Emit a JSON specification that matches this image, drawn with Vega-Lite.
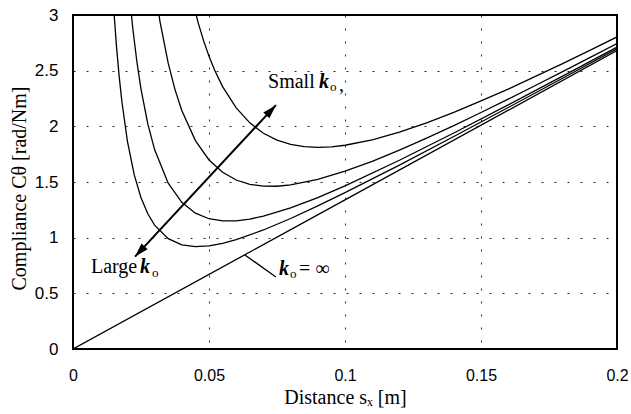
{
  "$schema": "https://vega.github.io/schema/vega-lite/v6.json",
  "width": 544,
  "height": 334,
  "autosize": {"type": "none"},
  "padding": {"left": 73, "top": 15, "right": 14, "bottom": 65},
  "background": "white",
  "config": {"view": {"stroke": "black", "strokeWidth": 2}},
  "datasets": {
    "curves": [
      {"k": "c1", "x": 0.044, "y": 3.121}, {"k": "c1", "x": 0.046, "y": 2.932}, {"k": "c1", "x": 0.048, "y": 2.77},
      {"k": "c1", "x": 0.05, "y": 2.63}, {"k": "c1", "x": 0.052, "y": 2.509}, {"k": "c1", "x": 0.055, "y": 2.357},
      {"k": "c1", "x": 0.06, "y": 2.165}, {"k": "c1", "x": 0.065, "y": 2.031}, {"k": "c1", "x": 0.07, "y": 1.938},
      {"k": "c1", "x": 0.075, "y": 1.876}, {"k": "c1", "x": 0.08, "y": 1.838}, {"k": "c1", "x": 0.085, "y": 1.817},
      {"k": "c1", "x": 0.09, "y": 1.811}, {"k": "c1", "x": 0.095, "y": 1.816}, {"k": "c1", "x": 0.1, "y": 1.83},
      {"k": "c1", "x": 0.11, "y": 1.879}, {"k": "c1", "x": 0.12, "y": 1.948}, {"k": "c1", "x": 0.13, "y": 2.032},
      {"k": "c1", "x": 0.14, "y": 2.126}, {"k": "c1", "x": 0.15, "y": 2.228}, {"k": "c1", "x": 0.16, "y": 2.335},
      {"k": "c1", "x": 0.17, "y": 2.448}, {"k": "c1", "x": 0.18, "y": 2.563}, {"k": "c1", "x": 0.19, "y": 2.682},
      {"k": "c1", "x": 0.2, "y": 2.803},
      {"k": "c2", "x": 0.03, "y": 3.258}, {"k": "c2", "x": 0.032, "y": 2.939}, {"k": "c2", "x": 0.035, "y": 2.567},
      {"k": "c2", "x": 0.0375, "y": 2.33}, {"k": "c2", "x": 0.04, "y": 2.142}, {"k": "c2", "x": 0.045, "y": 1.872},
      {"k": "c2", "x": 0.05, "y": 1.698}, {"k": "c2", "x": 0.055, "y": 1.587}, {"k": "c2", "x": 0.06, "y": 1.518},
      {"k": "c2", "x": 0.065, "y": 1.479}, {"k": "c2", "x": 0.07, "y": 1.463}, {"k": "c2", "x": 0.075, "y": 1.462},
      {"k": "c2", "x": 0.08, "y": 1.474}, {"k": "c2", "x": 0.09, "y": 1.523}, {"k": "c2", "x": 0.1, "y": 1.597},
      {"k": "c2", "x": 0.11, "y": 1.686}, {"k": "c2", "x": 0.12, "y": 1.787}, {"k": "c2", "x": 0.13, "y": 1.894},
      {"k": "c2", "x": 0.14, "y": 2.007}, {"k": "c2", "x": 0.15, "y": 2.124}, {"k": "c2", "x": 0.16, "y": 2.244},
      {"k": "c2", "x": 0.17, "y": 2.367}, {"k": "c2", "x": 0.18, "y": 2.491}, {"k": "c2", "x": 0.19, "y": 2.617},
      {"k": "c2", "x": 0.2, "y": 2.744},
      {"k": "c3", "x": 0.02, "y": 3.393}, {"k": "c3", "x": 0.021, "y": 3.116}, {"k": "c3", "x": 0.022, "y": 2.877},
      {"k": "c3", "x": 0.0235, "y": 2.578}, {"k": "c3", "x": 0.025, "y": 2.335}, {"k": "c3", "x": 0.0275, "y": 2.022},
      {"k": "c3", "x": 0.03, "y": 1.791}, {"k": "c3", "x": 0.035, "y": 1.489}, {"k": "c3", "x": 0.04, "y": 1.317},
      {"k": "c3", "x": 0.045, "y": 1.22}, {"k": "c3", "x": 0.05, "y": 1.17}, {"k": "c3", "x": 0.055, "y": 1.15},
      {"k": "c3", "x": 0.06, "y": 1.151}, {"k": "c3", "x": 0.065, "y": 1.167}, {"k": "c3", "x": 0.07, "y": 1.193},
      {"k": "c3", "x": 0.08, "y": 1.267}, {"k": "c3", "x": 0.09, "y": 1.36}, {"k": "c3", "x": 0.1, "y": 1.465},
      {"k": "c3", "x": 0.12, "y": 1.695}, {"k": "c3", "x": 0.14, "y": 1.94}, {"k": "c3", "x": 0.16, "y": 2.193},
      {"k": "c3", "x": 0.18, "y": 2.451}, {"k": "c3", "x": 0.2, "y": 2.711},
      {"k": "c4", "x": 0.014, "y": 3.453}, {"k": "c4", "x": 0.015, "y": 3.045}, {"k": "c4", "x": 0.016, "y": 2.714},
      {"k": "c4", "x": 0.017, "y": 2.442}, {"k": "c4", "x": 0.018, "y": 2.216}, {"k": "c4", "x": 0.02, "y": 1.868},
      {"k": "c4", "x": 0.0225, "y": 1.566}, {"k": "c4", "x": 0.025, "y": 1.359}, {"k": "c4", "x": 0.0275, "y": 1.215},
      {"k": "c4", "x": 0.03, "y": 1.113}, {"k": "c4", "x": 0.035, "y": 0.991}, {"k": "c4", "x": 0.04, "y": 0.936},
      {"k": "c4", "x": 0.045, "y": 0.919}, {"k": "c4", "x": 0.05, "y": 0.926}, {"k": "c4", "x": 0.055, "y": 0.949},
      {"k": "c4", "x": 0.06, "y": 0.982}, {"k": "c4", "x": 0.07, "y": 1.069}, {"k": "c4", "x": 0.08, "y": 1.172},
      {"k": "c4", "x": 0.09, "y": 1.285}, {"k": "c4", "x": 0.1, "y": 1.404}, {"k": "c4", "x": 0.12, "y": 1.652},
      {"k": "c4", "x": 0.14, "y": 1.909}, {"k": "c4", "x": 0.16, "y": 2.169}, {"k": "c4", "x": 0.18, "y": 2.432},
      {"k": "c4", "x": 0.2, "y": 2.696},
      {"k": "inf", "x": 0, "y": 0}, {"k": "inf", "x": 0.1, "y": 1.34}, {"k": "inf", "x": 0.2, "y": 2.68}
    ]
  },
  "encoding": {
    "x": {
      "field": "x", "type": "quantitative",
      "scale": {"domain": [0, 0.2], "nice": false, "zero": false},
      "axis": {
        "values": [0, 0.05, 0.1, 0.15, 0.2], "format": "~g",
        "title": "Distance sₓ [m]",
        "domain": false, "ticks": false, "tickSize": 0,
        "labelFont": "Liberation Sans", "labelFontSize": 16, "labelColor": "black", "labelPadding": 18,
        "labelFlush": false, "labelOverlap": false,
        "titleFont": "Liberation Serif", "titleFontSize": 20, "titleFontWeight": "normal", "titleColor": "black",
        "titleBaseline": "alphabetic", "titleY": 54,
        "grid": true, "gridColor": "black", "gridDash": [2, 11], "gridWidth": 1, "gridOpacity": 0.85
      }
    },
    "y": {
      "field": "y", "type": "quantitative",
      "scale": {"domain": [0, 3], "nice": false, "zero": false},
      "axis": {
        "values": [0, 0.5, 1, 1.5, 2, 2.5, 3], "format": "~g",
        "title": "Compliance Cθ [rad/Nm]",
        "domain": false, "ticks": false, "tickSize": 0,
        "labelFont": "Liberation Sans", "labelFontSize": 17, "labelColor": "black", "labelPadding": 15,
        "labelFlush": false, "labelOverlap": false,
        "titleFont": "Liberation Serif", "titleFontSize": 20, "titleFontWeight": "normal", "titleColor": "black",
        "titleBaseline": "alphabetic", "titleX": -48, "titleY": 173, "titleAngle": -90,
        "grid": true, "gridColor": "black", "gridDash": [2, 11], "gridWidth": 1, "gridOpacity": 0.85
      }
    }
  },
  "layer": [
    {
      "data": {"name": "curves"},
      "mark": {"type": "line", "color": "black", "strokeWidth": 1.3, "clip": true},
      "encoding": {"detail": {"field": "k", "type": "nominal"}}
    },
    {
      "data": {"values": [{"x": 0.0228, "y": 0.83, "x2": 0.0746, "y2": 2.19}]},
      "mark": {"type": "rule", "color": "black", "strokeWidth": 2},
      "encoding": {"x2": {"field": "x2"}, "y2": {"field": "y2"}}
    },
    {
      "data": {"values": [{"x": 0.0632, "y": 0.845, "x2": 0.0746, "y2": 0.646}]},
      "mark": {"type": "rule", "color": "black", "strokeWidth": 1.3},
      "encoding": {"x2": {"field": "x2"}, "y2": {"field": "y2"}}
    },
    {
      "data": {"values": [{"x": 0.0746, "y": 2.19}]},
      "mark": {"type": "point", "shape": "M0,0L-0.6,2L0.6,2Z", "size": 196, "filled": true, "color": "black", "opacity": 1, "angle": 43}
    },
    {
      "data": {"values": [{"x": 0.0228, "y": 0.83}]},
      "mark": {"type": "point", "shape": "M0,0L-0.6,2L0.6,2Z", "size": 196, "filled": true, "color": "black", "opacity": 1, "angle": 223}
    },
    {
      "data": {"values": [
        {"x": 0.0717, "y": 2.343, "t": "Small"},
        {"x": 0.0978, "y": 2.316, "t": ","},
        {"x": 0.0066, "y": 0.682, "t": "Large"},
        {"x": 0.0831, "y": 0.664, "t": "= ∞"}
      ]},
      "mark": {"type": "text", "align": "left", "baseline": "alphabetic", "font": "Liberation Serif", "fontSize": 20, "color": "black"},
      "encoding": {"text": {"field": "t"}}
    },
    {
      "data": {"values": [
        {"x": 0.0904, "y": 2.343, "t": "k"},
        {"x": 0.0246, "y": 0.682, "t": "k"},
        {"x": 0.0757, "y": 0.664, "t": "k"}
      ]},
      "mark": {"type": "text", "align": "left", "baseline": "alphabetic", "font": "Liberation Serif", "fontSize": 20, "fontStyle": "italic", "fontWeight": "bold", "color": "black"},
      "encoding": {"text": {"field": "t"}}
    },
    {
      "data": {"values": [
        {"x": 0.0945, "y": 2.316, "t": "o"},
        {"x": 0.029, "y": 0.646, "t": "o"},
        {"x": 0.0798, "y": 0.637, "t": "o"}
      ]},
      "mark": {"type": "text", "align": "left", "baseline": "alphabetic", "font": "Liberation Serif", "fontSize": 13, "color": "black"},
      "encoding": {"text": {"field": "t"}}
    }
  ]
}
